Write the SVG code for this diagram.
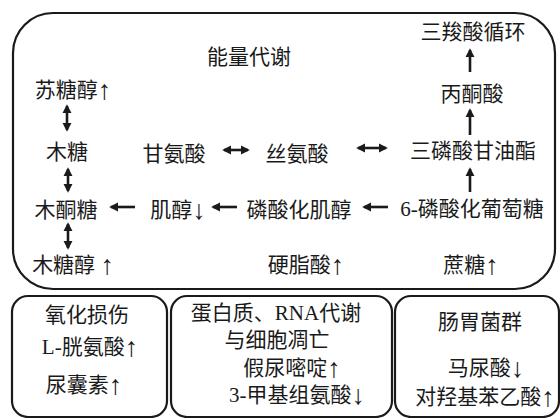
<svg xmlns="http://www.w3.org/2000/svg" width="560" height="418" viewBox="0 0 560 418">
<style>
.box{fill:none;stroke:#1a1a1a;stroke-width:2.2}
text{font-family:"Liberation Serif","Noto Sans CJK SC",serif;font-size:21px;fill:#1a1a1a;text-anchor:middle;dominant-baseline:central}
.ar{font-size:27px}
.c{stroke:#1a1a1a;stroke-width:2.6;fill:none}
</style>
<defs>
<marker id="ah" viewBox="0 0 10 10" refX="8" refY="5" markerWidth="3.6" markerHeight="3.6" orient="auto-start-reverse" markerUnits="strokeWidth">
<path d="M0,0 L10,5 L0,10 Z" fill="#1a1a1a"/>
</marker>
</defs>
<rect width="560" height="418" fill="#fff"/>
<g id="frames">
<rect class="box" x="13" y="13" width="542" height="276" rx="40"/>
<rect class="box" x="12" y="296" width="155" height="121" rx="16"/>
<rect class="box" x="171" y="296" width="221" height="121" rx="16"/>
<rect class="box" x="395" y="296" width="164" height="121" rx="16"/>
</g>
<g id="title"><text x="249" y="57">能量代谢</text></g>
<g id="n-tca"><text x="473" y="32">三羧酸循环</text></g>
<g id="n-pyruvate"><text x="472" y="94">丙酮酸</text></g>
<g id="n-threitol"><text x="73" y="90">苏糖醇<tspan class="ar">↑</tspan></text></g>
<g id="n-xylose"><text x="67" y="152">木糖</text></g>
<g id="n-xylulose"><text x="66" y="210">木酮糖</text></g>
<g id="n-xylitol"><text x="73" y="265">木糖醇 <tspan class="ar">↑</tspan></text></g>
<g id="n-glycine"><text x="174" y="154">甘氨酸</text></g>
<g id="n-serine"><text x="297" y="154">丝氨酸</text></g>
<g id="n-g3p"><text x="473" y="151">三磷酸甘油酯</text></g>
<g id="n-g6p"><text x="472" y="209">6-磷酸化葡萄糖</text></g>
<g id="n-ip"><text x="299" y="210">磷酸化肌醇</text></g>
<g id="n-inositol"><text x="178" y="210">肌醇<tspan class="ar">↓</tspan></text></g>
<g id="n-stearic"><text x="306" y="265">硬脂酸<tspan class="ar">↑</tspan></text></g>
<g id="n-sucrose"><text x="471" y="265">蔗糖<tspan class="ar">↑</tspan></text></g>
<g id="n-oxid">
<text x="87" y="315">氧化损伤</text>
<text x="90" y="347">L-胱氨酸<tspan class="ar">↑</tspan></text>
<text x="84" y="385">尿囊素<tspan class="ar">↑</tspan></text>
</g>
<g id="n-protein">
<text x="276" y="313">蛋白质、RNA代谢</text>
<text x="277" y="340">与细胞凋亡</text>
<text x="292" y="368">假尿嘧啶<tspan class="ar">↑</tspan></text>
<text x="297" y="395">3-甲基组氨酸<tspan class="ar">↓</tspan></text>
</g>
<g id="n-gut">
<text x="480" y="322">肠胃菌群</text>
<text x="486" y="368">马尿酸<tspan class="ar">↓</tspan></text>
<text x="485" y="397">对羟基苯乙酸<tspan class="ar">↑</tspan></text>
</g>
<g id="connectors">
<line class="c" x1="470" y1="72" x2="470" y2="50" marker-end="url(#ah)"/>
<line class="c" x1="470" y1="135" x2="470" y2="110" marker-end="url(#ah)"/>
<line class="c" x1="470" y1="192" x2="470" y2="169" marker-end="url(#ah)"/>
<line class="c" x1="388" y1="207" x2="364" y2="207" marker-end="url(#ah)"/>
<line class="c" x1="237" y1="207" x2="213" y2="207" marker-end="url(#ah)"/>
<line class="c" x1="135" y1="207" x2="111" y2="207" marker-end="url(#ah)"/>
<line class="c" x1="224" y1="150" x2="248" y2="150" marker-start="url(#ah)" marker-end="url(#ah)"/>
<line class="c" x1="358" y1="148" x2="386" y2="148" marker-start="url(#ah)" marker-end="url(#ah)"/>
<line class="c" x1="67" y1="106" x2="67" y2="130" marker-start="url(#ah)" marker-end="url(#ah)"/>
<line class="c" x1="68" y1="169" x2="68" y2="191" marker-start="url(#ah)" marker-end="url(#ah)"/>
<line class="c" x1="68" y1="224" x2="68" y2="248" marker-start="url(#ah)" marker-end="url(#ah)"/>
</g>
</svg>
